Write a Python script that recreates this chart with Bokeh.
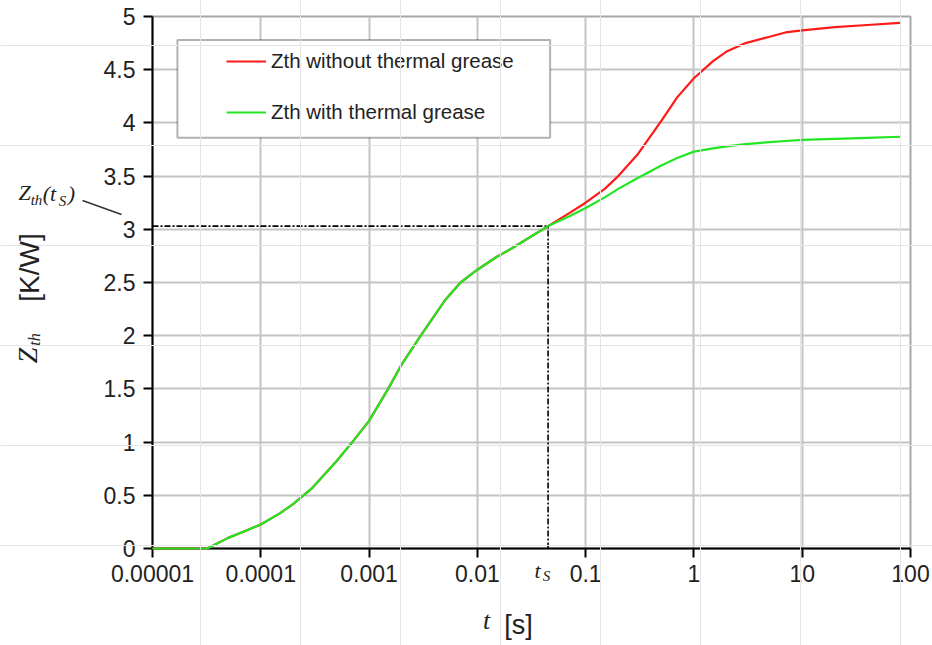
import numpy as np
from bokeh.plotting import figure
from bokeh.layouts import column, row
from bokeh.models import FixedTicker, Legend, LegendItem, BoxAnnotation, Range1d
from bokeh.core.properties import value
from bokeh.embed import file_html
from bokeh.resources import INLINE

# ---------------- data ----------------
t_common = [1e-5, 2e-5, 3.2e-5, 5e-5, 7e-5, 1e-4, 1.5e-4, 2e-4, 3e-4, 5e-4, 7e-4,
            1e-3, 1.5e-3, 2e-3, 3e-3, 5e-3, 7e-3, 1e-2, 1.5e-2, 2e-2, 3e-2, 4.5e-2]
z_common = [0.0, 0.0, 0.0, 0.1, 0.16, 0.225, 0.33, 0.42, 0.57, 0.82, 1.0,
            1.2, 1.5, 1.73, 2.0, 2.33, 2.5, 2.62, 2.74, 2.81, 2.92, 3.03]
t_tail = [7e-2, 0.1, 0.15, 0.2, 0.3, 0.5, 0.7, 1, 1.5, 2, 3, 5, 7, 10, 20, 40, 80]
z_without = [3.15, 3.25, 3.38, 3.5, 3.7, 4.02, 4.24, 4.42, 4.58, 4.67, 4.75, 4.81,
             4.85, 4.87, 4.9, 4.92, 4.94]
z_with = [3.12, 3.2, 3.3, 3.38, 3.48, 3.6, 3.67, 3.73, 3.76, 3.78, 3.8, 3.82,
          3.83, 3.84, 3.85, 3.86, 3.87]

t_s = 0.045
z_ts = 3.03

x_ticks = [1e-5, 1e-4, 1e-3, 1e-2, 1e-1, 1, 10, 100]
x_tick_labels = ["0.00001", "0.0001", "0.001", "0.01", "0.1", "1", "10", "100"]
y_ticks = [0, 0.5, 1, 1.5, 2, 2.5, 3, 3.5, 4, 4.5, 5]
y_tick_labels = ["0", "0.5", "1", "1.5", "2", "2.5", "3", "3.5", "4", "4.5", "5"]

series_names = ["Zth without thermal grease", "Zth with thermal grease"]

W, H = 932, 645
BL, BR, BT, BB = 152, 22, 16, 97       # plot frame borders
SERIF = "Liberation Serif"
SANS = "Liberation Sans"
TXT = "#222222"

# ---------------- main figure ----------------
p = figure(width=W, height=H, x_axis_type="log",
           x_range=(x_ticks[0], x_ticks[-1]), y_range=(y_ticks[0], y_ticks[-1]),
           output_backend="svg", toolbar_location=None,
           min_border_left=BL, min_border_right=BR,
           min_border_top=BT, min_border_bottom=BB)
p.background_fill_color = "white"
p.outline_line_color = "#a8a8a8"
p.outline_line_width = 2

for ax, ticks, labels in ((p.xaxis[0], x_ticks, x_tick_labels),
                          (p.yaxis[0], y_ticks, y_tick_labels)):
    ax.ticker = FixedTicker(ticks=ticks, minor_ticks=[])
    ax.major_label_overrides = {float(k): v for k, v in zip(ticks, labels)}
    ax.axis_line_color = "black"
    ax.axis_line_width = 2
    ax.major_tick_line_color = "black"
    ax.major_tick_line_width = 2
    ax.major_tick_out = 9
    ax.major_tick_in = 0
    ax.minor_tick_out = 0
    ax.minor_tick_in = 0
    ax.major_label_text_font = SANS
    ax.major_label_text_font_size = "23px"
    ax.major_label_text_color = TXT

p.yaxis.major_label_standoff = 8
p.xaxis.major_label_standoff = 7

p.grid.grid_line_color = "#c4c4c4"
p.grid.grid_line_width = 2

# reference lines at t_S
p.segment(x0=[x_ticks[0], t_s], y0=[z_ts, y_ticks[0]], x1=[t_s, t_s], y1=[z_ts, z_ts],
          line_color="black", line_width=1.6, line_dash="6 2 2 2")

r1 = p.line(t_common + t_tail, z_common + z_without, line_color="#ff1a1a", line_width=2.2,
            level="overlay")
r2 = p.line(t_common + t_tail, z_common + z_with, line_color="#22e622", line_width=2.2,
            level="overlay")

# legend frame + legend
box = BoxAnnotation(left=1.7e-5, right=0.047, bottom=3.86, top=4.78,
                    fill_color="white", fill_alpha=1.0,
                    line_color="black", line_width=2, level="annotation")
p.add_layout(box)

legend = Legend(items=[LegendItem(label=series_names[0], renderers=[r1]),
                       LegendItem(label=series_names[1], renderers=[r2])],
                location=(74, 424), padding=0, spacing=27,
                glyph_width=40, glyph_height=20, label_standoff=5,
                label_text_font=SANS, label_text_font_size="20.5px",
                label_text_color=TXT,
                border_line_color=None, background_fill_alpha=0)
p.add_layout(legend)


# ---------------- transparent overlays for texts outside the plot frame ----------------
def overlay(bl, br, bt, bb, margin):
    o = figure(width=W, height=H,
               x_range=Range1d(bl, W - br), y_range=Range1d(bb, H - bt),
               x_axis_location=None, y_axis_location=None,
               output_backend="svg", toolbar_location=None,
               min_border_left=bl, min_border_right=br,
               min_border_top=bt, min_border_bottom=bb,
               outline_line_color=None)
    o.background_fill_alpha = 0
    o.border_fill_alpha = 0
    o.margin = margin
    return o

# left overlay: vertical extent shared with the plot frame, full width
ov_left = overlay(0, 0, BT, BB, (0, 0, 0, -W))
# bottom overlay: horizontal extent shared with the plot frame, full height
ov_bot = overlay(BL, BR, 0, 0, (-H, 0, 0, 0))


def txt(o, text, x, y, size, font=SANS, style="normal", angle=0.0):
    o.text(x=[x], y=[H - y], text=[text], angle=angle,
           text_font=value(font), text_font_size=value(size),
           text_font_style=style, text_color=TXT,
           text_align="center", text_baseline="middle")

# y axis title  Z_th  [K/W]
txt(ov_left, "Z", 27, 355, "28px", SERIF, "italic", np.pi / 2)
txt(ov_left, "th", 34, 339, "16px", SERIF, "italic", np.pi / 2)
txt(ov_left, "[K/W]", 29, 267, "28px", SANS, "normal", np.pi / 2)

# Z_th(t_S) label with leader line
txt(ov_left, "Z", 24, 192, "22px", SERIF, "italic")
txt(ov_left, "th", 36, 199, "15px", SERIF, "italic")
txt(ov_left, "(t", 49, 193, "22px", SERIF, "italic")
txt(ov_left, "S", 62, 200, "15px", SERIF, "italic")
txt(ov_left, ")", 71, 193, "22px", SERIF, "italic")
ov_left.line(x=[82, 121], y=[H - 200, H - 214], line_color="#333333", line_width=1.5)

# x axis title  t  [s]
txt(ov_bot, "t", 486, 620, "26px", SERIF, "italic")
txt(ov_bot, "[s]", 518, 624, "27px", SANS, "normal")

# t_S below the axis
txt(ov_bot, "t", 537, 570, "22px", SERIF, "italic")
txt(ov_bot, "S", 546, 575, "15px", SERIF, "italic")

layout = column(row(p, ov_left), ov_bot)
open("out.html", "w").write(file_html(layout, INLINE))
